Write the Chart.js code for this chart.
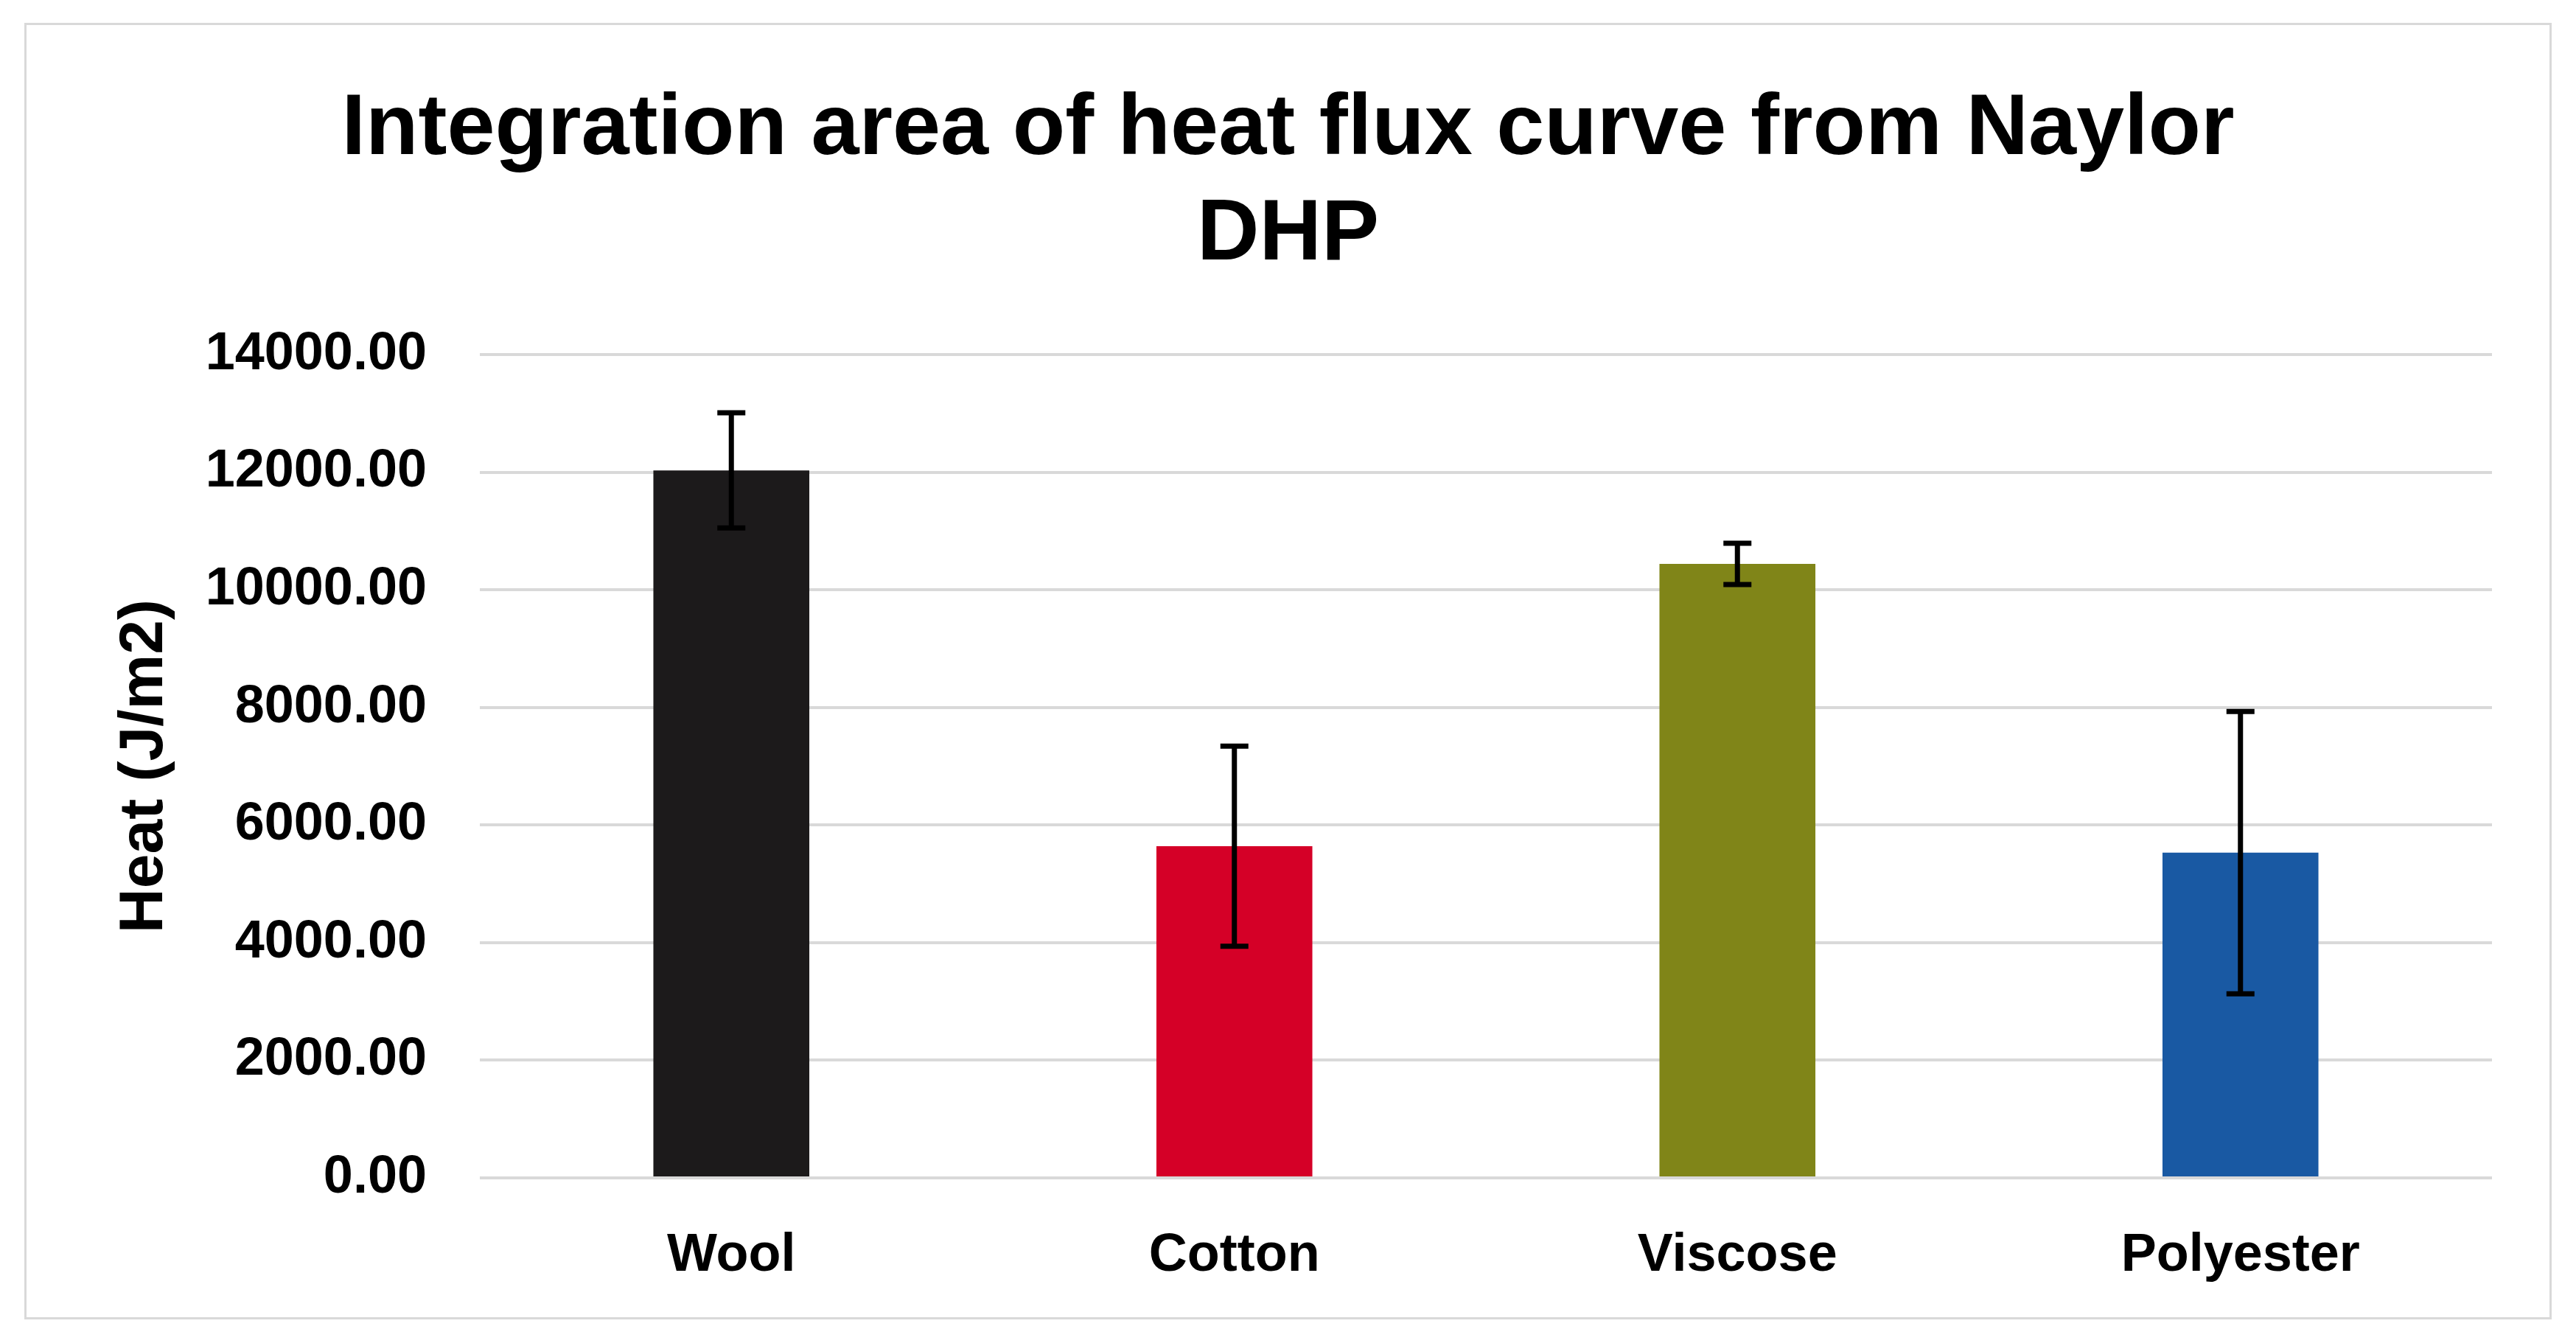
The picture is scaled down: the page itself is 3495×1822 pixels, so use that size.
<!DOCTYPE html>
<html>
<head>
<meta charset="utf-8">
<script src="https://cdn.jsdelivr.net/npm/chart.js@4.4.0/dist/chart.umd.min.js"></script>
<style>
    body { margin: 0; background: #ffffff; }
    #frame {
        position: absolute;
        left: 33px; top: 31px;
        width: 3423px; height: 1753px;
        border: 3px solid #d9d9d9;
        background: #ffffff;
    }
</style>
</head>
<body>
<div id="frame"><canvas id="bar-chart" width="3423" height="1753"></canvas></div>
<script>
// data
var fabrics   = ['Wool', 'Cotton', 'Viscose', 'Polyester'];
var heatVals  = [12030, 5640, 10440, 5530];
var heatErr   = [980, 1700, 350, 2400];
var barColors = ['#1c1a1b', '#d50027', '#808518', '#1959a3'];
var yTicks    = [0, 2000, 4000, 6000, 8000, 10000, 12000, 14000];

var titleLines = ['Integration area of heat flux curve from Naylor', 'DHP'];
var yTitle = 'Heat (J/m2)';
var fontName = '"Liberation Sans", Arial, sans-serif';

// draws the black error bars on top of each bar
var errorBars = {
    id: 'errorBars',
    afterDatasetsDraw: function(chart) {
        var ctx = chart.ctx;
        var yScale = chart.scales.y;
        var meta = chart.getDatasetMeta(0);
        ctx.save();
        ctx.strokeStyle = '#000000';
        ctx.lineWidth = 7;
        ctx.lineCap = 'butt';
        meta.data.forEach(function(bar, i) {
            var x = bar.x;
            var top = yScale.getPixelForValue(heatVals[i] + heatErr[i]);
            var bot = yScale.getPixelForValue(heatVals[i] - heatErr[i]);
            ctx.beginPath();
            ctx.moveTo(x, top); ctx.lineTo(x, bot);
            ctx.moveTo(x - 19, top); ctx.lineTo(x + 19, top);
            ctx.moveTo(x - 19, bot); ctx.lineTo(x + 19, bot);
            ctx.stroke();
        });
        ctx.restore();
    }
};

window.onload = function() {
    var ctx = document.getElementById('bar-chart').getContext('2d');
    var chart = new Chart(ctx, {
        type: 'bar',
        data: {
            labels: fabrics,
            datasets: [{
                data: heatVals,
                backgroundColor: barColors,
                borderWidth: 0,
                barPercentage: 0.31,
                categoryPercentage: 1.0
            }]
        },
        options: {
            responsive: false,
            animation: false,
            layout: { padding: 0 },
            plugins: {
                legend: { display: false },
                tooltip: { enabled: false },
                title: {
                    display: true,
                    text: titleLines,
                    color: '#000000',
                    font: { family: fontName, size: 117, weight: 'bold', lineHeight: 1.222 },
                    padding: { top: 71, bottom: 90 }
                }
            },
            scales: {
                x: {
                    grid: { display: false },
                    border: { display: false },
                    ticks: {
                        color: '#000000',
                        padding: 55,
                        font: { family: fontName, size: 72, weight: 'bold' }
                    },
                    afterFit: function(scale) { scale.height = 189; }
                },
                y: {
                    min: 0,
                    max: 14000,
                    afterBuildTicks: function(scale) {
                        scale.ticks = yTicks.map(function(v) { return { value: v }; });
                    },
                    grid: { color: '#d9d9d9', lineWidth: 4, drawTicks: false },
                    border: { display: false },
                    ticks: {
                        color: '#000000',
                        padding: 72,
                        font: { family: fontName, size: 72, weight: 'bold' },
                        callback: function(v) { return Number(v).toFixed(2); }
                    },
                    title: {
                        display: true,
                        text: yTitle,
                        color: '#000000',
                        font: { family: fontName, size: 84, weight: 'bold', lineHeight: 1.2 },
                        padding: { top: 110, bottom: 0 }
                    },
                    afterFit: function(scale) { scale.width = 615; }
                },
                // empty right margin so the title stays centred on the frame
                yRight: {
                    type: 'linear',
                    position: 'right',
                    min: 0,
                    max: 14000,
                    grid: { display: false },
                    border: { display: false },
                    ticks: { display: false },
                    afterFit: function(scale) { scale.width = 78; }
                }
            }
        },
        plugins: [errorBars]
    });
};
</script>
</body>
</html>
